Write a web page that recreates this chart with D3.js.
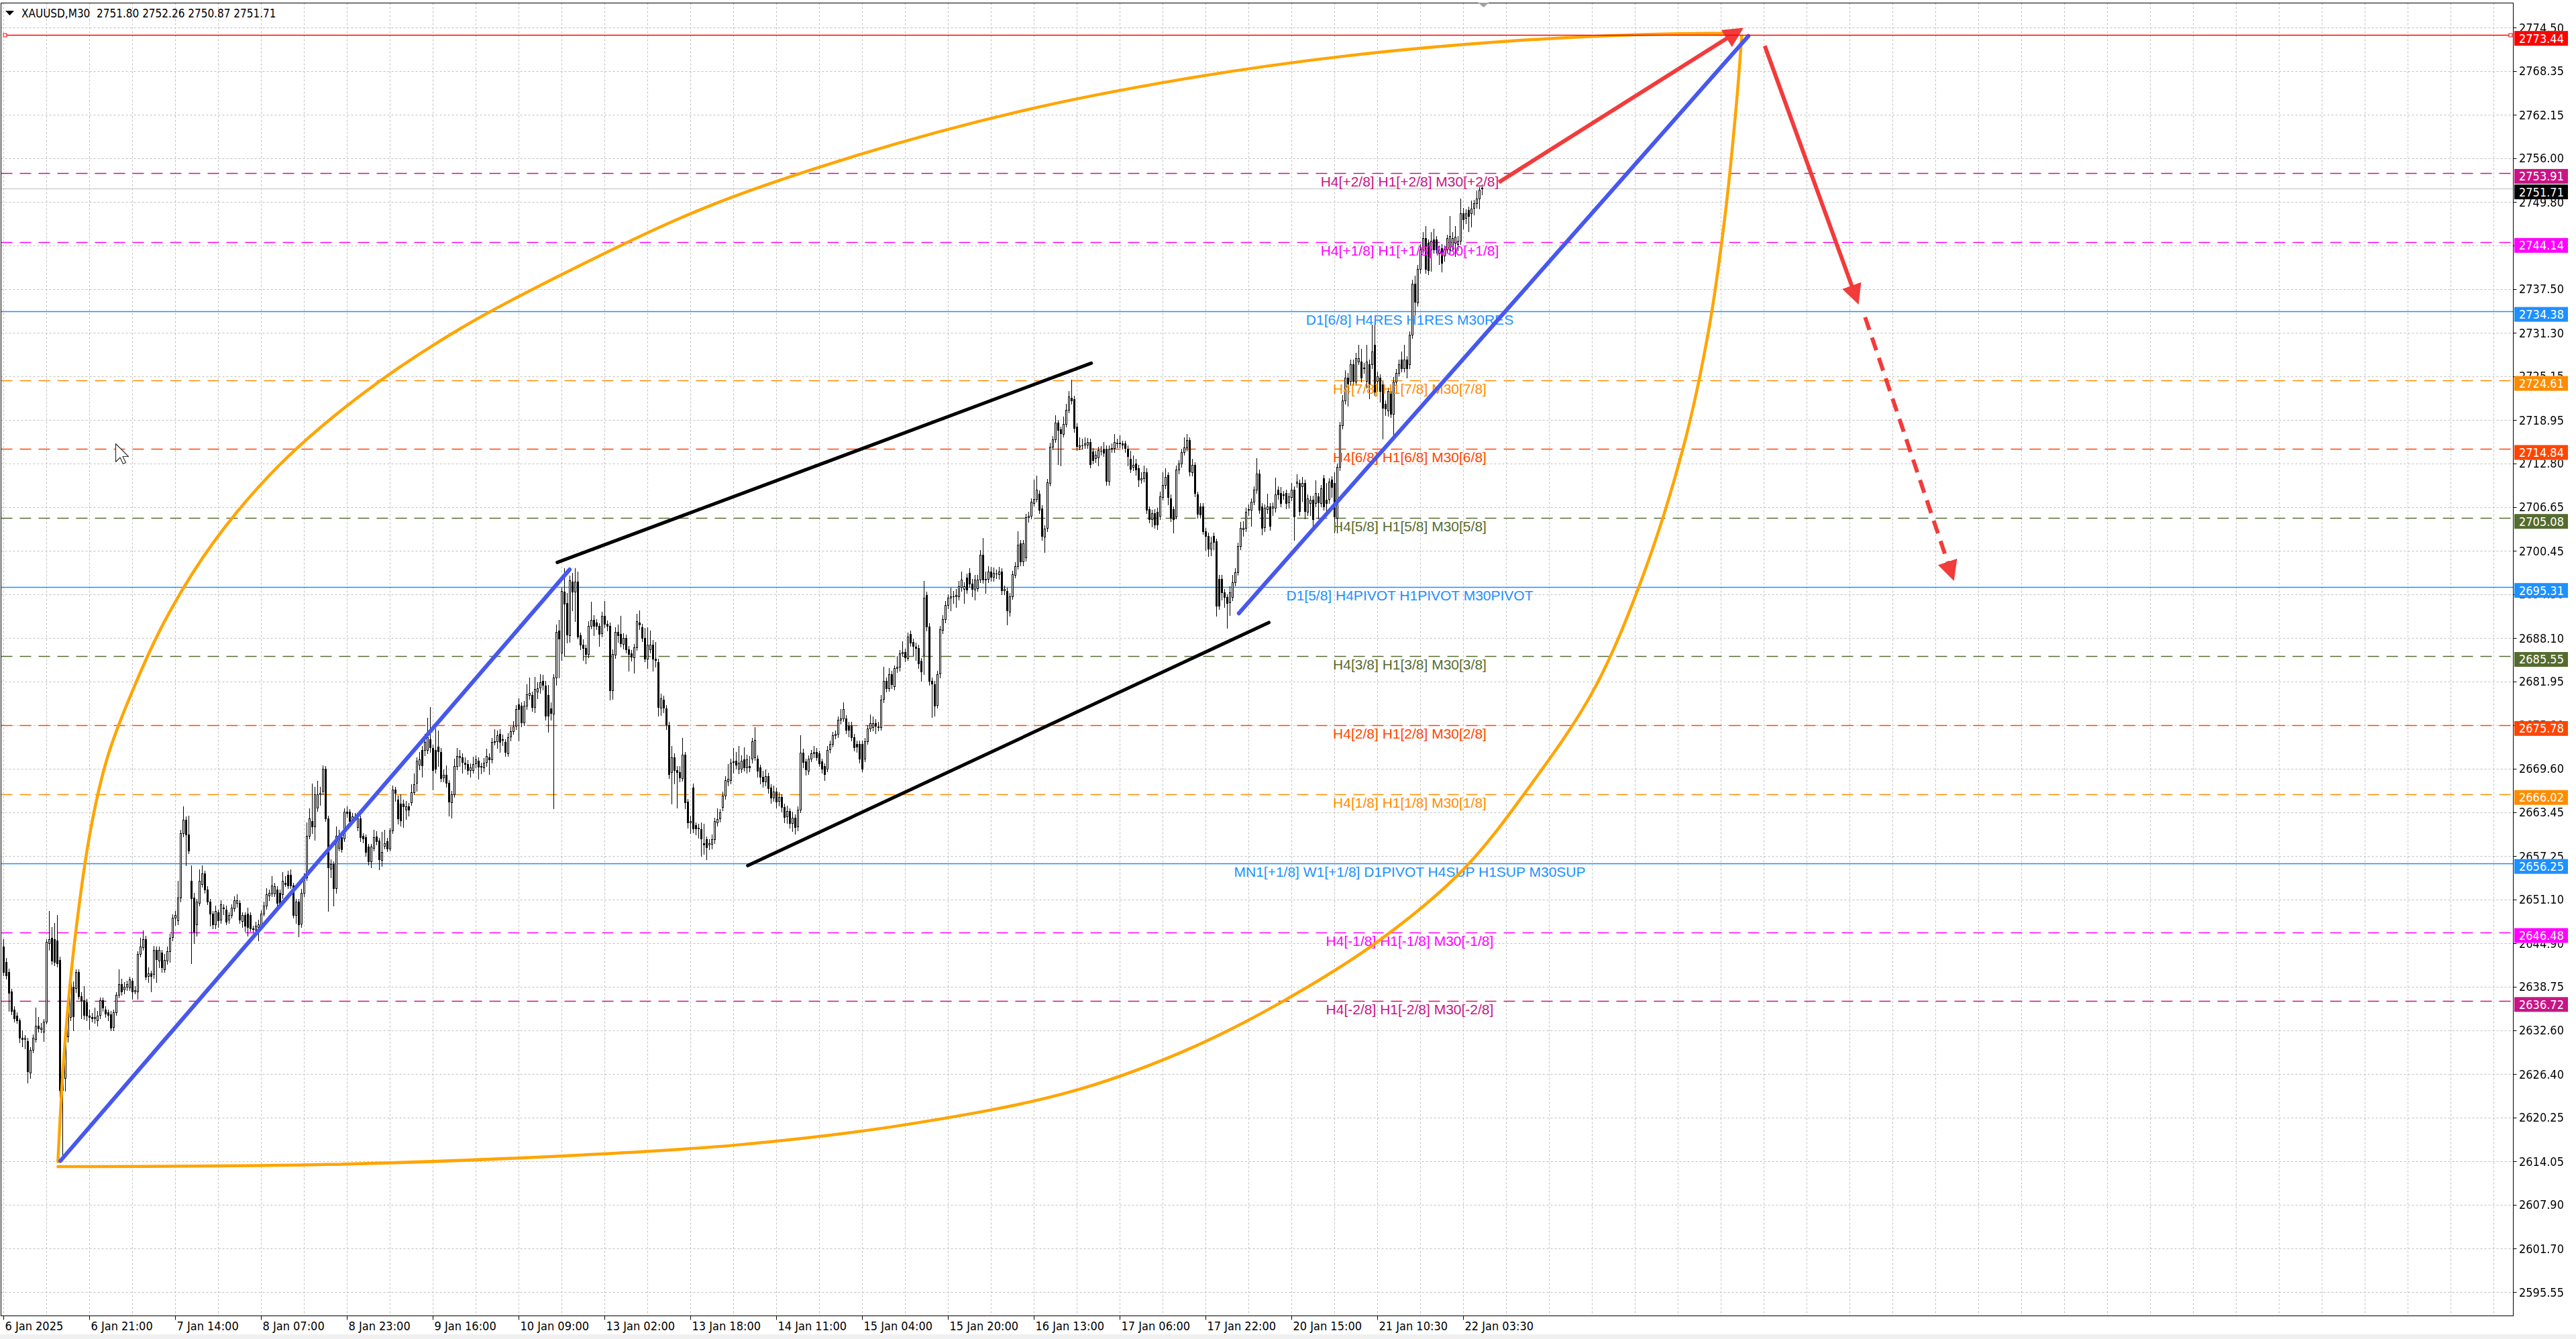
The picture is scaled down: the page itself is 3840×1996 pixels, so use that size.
<!DOCTYPE html>
<html><head><meta charset="utf-8">
<script src="https://cdn.jsdelivr.net/npm/d3@7"></script>
<style>
html,body{margin:0;padding:0;background:#fff;}
svg{display:block;}
.ax{font-family:"DejaVu Sans Condensed","DejaVu Sans",sans-serif;font-stretch:condensed;}
.lv{font-family:"Liberation Sans",Arial,sans-serif;}
</style></head><body>
<svg id="chart" width="3840" height="1996"></svg>
<script>
// ---------------- data ----------------
const titleText = "XAUUSD,M30  2751.80 2752.26 2750.87 2751.71";
const timeLabels = ["6 Jan 2025","6 Jan 21:00","7 Jan 14:00","8 Jan 07:00","8 Jan 23:00","9 Jan 16:00","10 Jan 09:00","13 Jan 02:00","13 Jan 18:00","14 Jan 11:00","15 Jan 04:00","15 Jan 20:00","16 Jan 13:00","17 Jan 06:00","17 Jan 22:00","20 Jan 15:00","21 Jan 10:30","22 Jan 03:30"];
const timeLabelBars = [0,32,64,96,128,160,192,224,256,288,320,352,384,416,448,480,512,544];
const priceTicks = [2774.50,2768.35,2762.15,2756.00,2749.80,2743.65,2737.50,2731.30,2725.15,2718.95,2712.80,2706.65,2700.45,2694.30,2688.10,2681.95,2675.80,2669.60,2663.45,2657.25,2651.10,2644.90,2638.75,2632.60,2626.40,2620.25,2614.05,2607.90,2601.70,2595.55];

const opens = [
2644.4,2642.3,2640.8,2638.1,2635.5,2634.7,2634.0,2631.5,2631.3,2631.1,
2626.6,2629.8,2631.3,2633.2,2632.8,2632.4,2633.8,2644.9,2645.7,2645.5,
2645.3,2642.5,2624.1,2625.8,2631.7,2634.5,2638.7,2638.5,2640.8,2637.4,
2636.8,2636.6,2634.7,2634.5,2634.3,2634.0,2634.7,2636.8,2635.5,2635.1,
2634.9,2633.0,2635.1,2637.6,2639.1,2638.3,2638.7,2638.7,2639.6,2638.1,
2638.1,2643.4,2644.4,2645.5,2640.2,2640.6,2640.6,2644.0,2642.5,2643.6,
2641.2,2642.5,2643.8,2645.7,2648.5,2648.2,2651.4,2660.5,2662.4,2660.3,
2653.7,2651.4,2647.6,2650.6,2653.3,2654.8,2652.5,2650.8,2649.1,2647.6,
2649.3,2648.2,2649.9,2649.7,2648.2,2648.9,2649.9,2650.6,2650.6,2648.0,
2648.9,2649.1,2648.9,2647.0,2646.8,2647.2,2647.4,2649.1,2650.2,2651.6,
2652.0,2652.0,2652.5,2652.0,2651.8,2653.5,2654.6,2654.6,2653.1,2648.9,
2650.8,2647.6,2652.0,2654.2,2660.1,2662.2,2661.4,2664.1,2666.0,2666.5,
2669.6,2662.6,2655.4,2656.1,2652.7,2658.4,2659.9,2659.7,2663.5,2663.5,
2662.2,2662.9,2661.4,2662.6,2660.1,2659.9,2658.6,2656.5,2658.4,
2660.0,2659.4,2656.7,2658.7,2659.3,2658.3,2660.9,2666.7,2665.2,2664.7,
2664.7,2663.8,2664.3,2664.9,2666.3,2667.6,2670.1,2672.3,2672.3,2672.3,
2673.8,2672.5,2672.3,2672.7,2672.0,2668.3,2668.7,2667.6,2664.9,2666.0,
2670.0,2671.2,2671.2,2670.5,2670.3,2669.4,2669.4,2670.3,2670.7,2669.9,
2669.8,2670.5,2671.2,2670.9,2673.4,2673.4,2674.5,2673.8,2673.4,2671.8,
2674.1,2674.9,2675.6,2678.7,2678.5,2676.1,2678.5,2680.0,2680.0,2678.3,
2680.5,2681.0,2682.0,2681.4,2680.0,2678.1,2677.4,2682.5,2689.2,2686.1,
2694.7,2693.0,2688.5,2696.1,2694.7,2696.1,2688.5,2687.2,2686.7,2685.8,
2689.8,2690.7,2690.3,2689.8,2688.7,2691.2,2690.1,2689.8,2680.7,2685.8,
2689.0,2688.7,2687.2,2688.1,2686.5,2685.9,2685.4,2686.8,2690.3,2689.6,
2688.1,2685.2,2686.5,2687.2,2685.2,2684.7,2678.3,2679.4,2678.1,2675.8,
2669.1,2671.2,2669.4,2669.1,2668.3,2671.6,2664.9,2662.0,2666.9,2661.6,
2661.1,2661.1,2659.1,2659.6,2658.9,2658.9,2659.6,2662.0,2662.5,2664.2,
2665.8,2667.8,2668.0,2670.5,2670.7,2669.6,2669.6,2670.9,2669.8,2670.0,
2671.0,2671.2,2671.0,2669.8,2668.5,2667.8,2668.6,2666.9,2665.5,2666.4,
2665.0,2665.6,2664.2,2662.8,2663.6,2661.9,2662.7,2661.4,2663.8,2671.9,
2670.6,2669.3,2671.0,2671.8,2672.0,2671.8,2670.6,2670.0,2669.6,2672.3,
2673.1,2674.3,2674.5,2676.5,2676.7,2676.7,2675.7,2675.7,2674.1,2673.1,
2673.1,2673.1,2671.0,2673.5,2675.3,2675.5,2676.1,2675.5,2675.5,2679.4,
2682.0,2681.0,2683.0,2681.2,2683.8,2684.0,2685.9,2686.1,2685.3,2688.7,
2687.5,2686.9,2686.7,2684.9,2685.7,2694.2,2689.7,2682.0,2681.6,2678.6,
2683.0,2689.3,2690.8,2692.8,2693.8,2694.0,2694.0,2694.0,2695.4,2695.0,
2696.7,2697.3,2695.8,2695.0,2695.2,2696.4,2699.9,2696.4,2696.5,2697.5,
2696.7,2697.2,2697.1,2697.5,2694.8,2694.8,2691.8,2694.0,2697.1,2698.3,
2701.5,2698.9,2699.5,2705.2,2705.4,2707.2,2707.8,2708.5,2706.4,2702.5,
2703.6,2710.1,2715.2,2716.2,2718.6,2717.6,2717.0,2718.4,2720.4,2722.1,
2721.9,2718.0,2715.2,2715.4,2715.4,2715.4,2715.8,2714.5,2713.5,2713.7,
2714.6,2714.9,2714.9,2710.3,2714.9,2714.9,2715.6,2715.7,2715.6,2715.6,2714.9,
2713.5,2712.3,2712.8,2712.1,2710.5,2710.7,2711.6,2706.3,2704.9,2705.8,
2706.0,2705.3,2708.1,2709.8,2711.2,2707.9,2706.3,2705.3,2711.9,2712.8,
2714.4,2715.1,2716.1,2711.6,2712.6,2708.4,2706.7,2706.7,2703.2,2702.5,
2700.7,2702.5,2701.8,2696.5,2696.5,2694.6,2693.9,2693.2,2693.9,2696.0,
2697.4,2701.1,2703.5,2703.7,2706.2,2706.3,2707.4,2709.1,2711.4,2706.7,
2703.7,2706.3,2706.7,2706.5,2706.5,2709.1,2708.6,2708.4,2708.6,2707.2,
2708.1,2709.1,2710.0,2710.0,2709.5,2710.0,2706.0,2707.2,2707.7,2707.2,
2708.1,2707.2,2710.7,2707.7,2707.7,2710.5,2710.0,2705.1,2712.3,2718.2,
2721.7,2724.9,2724.4,2726.8,2724.4,2727.2,2727.2,2726.3,2724.4,2726.8,
2726.8,2729.6,2724.4,2724.9,2724.0,2721.2,2720.2,2723.0,2719.8,2724.4,
2725.6,2727.5,2726.3,2727.5,2726.8,2731.0,2738.2,2735.6,2740.3,2743.1,
2744.7,2744.0,2743.1,2744.5,2744.5,2742.6,2743.3,2742.2,2743.1,2743.1,
2743.6,2744.0,2743.8,2744.3,2748.2,2747.5,2748.7,2748.2,2748.9,2749.6,
2750.3,2751.80];

const highs = [
2645.5,2642.8,2641.3,2638.5,2636.0,2635.1,2634.3,2632.6,2631.9,2631.5,
2630.2,2632.0,2635.8,2634.5,2633.6,2634.2,2645.5,2649.5,2647.2,2647.8,
2648.9,2643.0,2628.0,2632.5,2636.5,2640.0,2639.5,2641.2,2641.2,2638.0,
2638.8,2637.0,2635.5,2635.0,2635.8,2635.3,2637.2,2637.2,2636.0,2635.5,
2635.3,2635.5,2638.0,2641.2,2639.9,2639.4,2639.6,2640.2,2640.0,2638.8,
2643.8,2645.7,2646.7,2646.0,2641.5,2641.0,2644.5,2644.4,2644.4,2644.0,
2643.4,2644.4,2646.2,2649.0,2649.5,2653.7,2661.0,2664.3,2662.9,2663.0,
2655.9,2652.0,2651.2,2655.4,2655.9,2655.2,2653.0,2651.2,2649.5,2650.2,
2649.7,2651.0,2650.4,2650.2,2649.3,2650.4,2651.6,2651.8,2651.0,2649.3,
2649.3,2649.9,2649.3,2647.4,2648.0,2648.2,2649.6,2650.8,2652.7,2652.5,
2654.4,2653.5,2653.0,2652.5,2655.0,2654.4,2655.2,2655.4,2653.5,2651.2,
2651.2,2652.6,2654.8,2662.0,2664.0,2667.5,2667.0,2667.9,2667.0,2670.1,
2670.0,2663.0,2656.8,2656.5,2661.4,2661.0,2660.5,2664.0,2664.3,2663.9,
2663.3,2663.3,2663.1,2663.0,2660.5,2660.3,2659.0,2659.0,2661.0,
2660.8,2659.8,2660.7,2661.0,2659.8,2661.2,2667.2,2667.0,2665.8,2666.0,
2665.2,2665.0,2664.8,2667.4,2668.9,2671.2,2672.0,2672.8,2674.5,2676.8,
2678.3,2673.0,2675.3,2675.0,2672.5,2669.5,2670.1,2668.0,2666.5,2671.0,
2672.5,2672.3,2671.8,2671.2,2670.8,2670.4,2671.3,2671.5,2671.2,2670.5,
2671.1,2672.4,2671.8,2674.0,2675.2,2675.0,2675.2,2674.4,2673.8,2674.6,
2675.6,2676.3,2678.6,2679.6,2679.0,2679.2,2681.6,2682.5,2680.5,2682.6,
2681.8,2683.0,2682.9,2682.0,2681.5,2679.0,2683.0,2690.0,2690.7,2695.2,
2698.0,2694.5,2696.9,2697.3,2698.0,2697.5,2688.9,2687.9,2687.2,2690.5,
2693.2,2691.3,2690.8,2690.2,2691.8,2693.3,2690.6,2690.3,2686.5,2689.6,
2690.0,2691.2,2688.8,2688.6,2687.0,2686.4,2687.3,2691.5,2692.0,2690.1,
2689.5,2689.6,2689.2,2687.8,2687.5,2685.2,2680.2,2679.9,2678.6,2676.2,
2672.8,2671.8,2670.0,2670.0,2674.0,2672.0,2665.3,2663.0,2667.5,2662.0,
2661.8,2662.0,2661.8,2660.0,2659.6,2660.3,2662.7,2664.0,2663.9,2666.4,
2668.6,2670.3,2671.0,2672.5,2672.0,2672.8,2671.5,2672.6,2671.6,2671.4,
2674.0,2675.5,2671.5,2670.2,2669.3,2669.5,2669.0,2667.4,2667.2,2666.9,
2666.3,2666.0,2664.7,2664.4,2664.0,2663.5,2663.1,2664.3,2674.3,2672.4,
2671.0,2671.5,2672.3,2672.8,2672.5,2672.2,2671.0,2670.4,2672.8,2673.6,
2674.8,2675.0,2677.0,2678.0,2679.0,2677.2,2676.2,2676.2,2674.5,2673.6,
2673.6,2673.6,2674.0,2675.8,2677.3,2677.0,2676.6,2676.2,2680.0,2684.0,
2682.5,2683.8,2683.5,2684.2,2685.5,2686.4,2687.6,2686.6,2688.9,2689.2,
2688.0,2687.4,2687.2,2685.3,2696.2,2694.7,2690.2,2682.5,2682.0,2683.5,
2689.8,2691.3,2693.3,2694.3,2695.2,2694.8,2695.0,2696.2,2697.5,2696.0,
2697.2,2698.0,2696.5,2697.0,2697.0,2700.5,2702.3,2697.5,2698.3,2698.2,
2698.1,2697.8,2698.2,2698.0,2695.5,2695.2,2694.5,2697.6,2698.8,2703.2,
2702.0,2702.0,2705.7,2706.0,2707.9,2710.5,2711.1,2709.0,2706.9,2704.1,
2710.6,2715.7,2716.7,2719.6,2719.0,2718.0,2719.4,2721.2,2723.0,2724.7,
2722.4,2718.5,2716.5,2716.3,2716.5,2716.4,2716.3,2715.0,2714.6,2715.2,
2715.3,2715.8,2715.4,2715.4,2715.6,2717.0,2716.3,2716.8,2716.0,2716.0,2715.4,
2714.6,2713.9,2713.5,2712.6,2711.6,2712.5,2712.1,2706.7,2706.2,2706.3,
2706.5,2708.8,2711.6,2712.1,2711.6,2708.4,2706.7,2712.5,2713.3,2714.9,
2716.5,2717.0,2716.5,2713.5,2713.0,2708.8,2707.2,2707.2,2703.7,2703.0,
2702.4,2703.0,2702.2,2697.0,2697.0,2695.0,2694.3,2695.4,2697.0,2698.0,
2701.6,2704.5,2704.6,2706.5,2707.0,2707.9,2709.6,2713.6,2711.9,2707.2,
2707.0,2708.5,2707.2,2707.3,2710.8,2709.6,2709.5,2708.9,2709.1,2708.6,
2710.0,2709.6,2711.3,2710.5,2710.9,2710.5,2708.4,2708.2,2708.2,2710.4,
2708.6,2709.8,2711.2,2710.0,2710.7,2711.0,2711.6,2712.8,2718.7,2722.5,
2726.0,2725.6,2727.5,2727.5,2728.5,2729.6,2729.0,2727.0,2729.6,2727.5,
2732.4,2733.0,2725.8,2725.4,2724.5,2721.7,2723.5,2723.5,2725.0,2726.2,
2727.5,2728.6,2729.6,2728.0,2731.5,2738.8,2739.4,2740.9,2743.8,2745.5,
2746.4,2744.5,2745.5,2746.0,2745.0,2743.6,2743.8,2743.6,2745.2,2747.8,
2745.5,2746.4,2745.0,2750.3,2749.0,2748.8,2749.2,2750.0,2750.1,2751.4,
2751.9,2752.26];

const lows = [
2640.4,2639.9,2635.3,2634.9,2633.8,2633.6,2630.9,2630.3,2630.0,2625.2,
2625.8,2629.4,2631.0,2632.4,2632.3,2631.1,2633.5,2644.0,2642.0,2641.8,
2641.6,2622.5,2614.3,2624.0,2631.0,2634.0,2632.6,2638.0,2637.0,2634.3,
2634.2,2634.0,2632.8,2633.8,2633.6,2633.2,2634.3,2635.3,2634.5,2634.0,
2632.6,2632.6,2634.8,2637.2,2637.6,2637.8,2638.3,2638.3,2637.0,2637.8,
2637.0,2643.0,2644.0,2639.8,2639.4,2638.1,2640.0,2639.4,2641.5,2640.8,
2640.8,2642.0,2642.3,2645.3,2647.5,2647.6,2650.8,2660.0,2655.9,2657.6,
2642.1,2644.9,2646.0,2650.2,2652.9,2652.0,2650.4,2647.4,2647.0,2647.0,
2647.2,2647.8,2649.0,2647.6,2647.8,2648.5,2649.5,2650.0,2647.8,2647.2,
2646.6,2646.0,2646.6,2646.5,2646.3,2645.3,2647.0,2648.8,2649.8,2651.0,
2651.6,2651.6,2650.0,2650.2,2651.3,2653.0,2652.7,2652.7,2648.5,2647.8,
2645.9,2647.2,2651.6,2653.8,2659.7,2660.5,2659.5,2663.6,2664.5,2666.0,
2662.2,2649.5,2654.2,2650.2,2652.0,2658.0,2657.8,2659.3,2662.8,2661.8,
2661.8,2662.4,2660.9,2659.3,2659.2,2657.3,2656.0,2655.6,2658.0,
2658.9,2655.4,2655.8,2658.3,2657.9,2658.0,2660.5,2665.0,2661.8,2661.5,
2661.3,2662.5,2663.0,2664.5,2666.0,2666.5,2669.5,2668.5,2671.5,2671.8,
2672.0,2666.7,2669.0,2670.0,2667.8,2667.8,2667.0,2663.0,2662.7,2665.6,
2669.5,2670.0,2669.0,2669.6,2668.8,2668.5,2669.0,2669.8,2668.2,2668.9,
2669.2,2670.0,2668.8,2670.5,2673.0,2672.5,2672.0,2672.9,2671.4,2671.4,
2673.6,2674.5,2675.2,2673.6,2675.6,2675.8,2678.0,2679.5,2677.8,2677.6,
2679.6,2680.3,2680.8,2676.5,2674.8,2676.5,2664.0,2681.5,2682.5,2685.0,
2685.5,2687.4,2687.5,2692.0,2690.5,2688.0,2686.5,2685.0,2684.5,2685.4,
2689.4,2688.5,2689.3,2687.0,2688.3,2689.6,2689.2,2679.4,2679.5,2685.3,
2687.5,2686.9,2686.6,2686.0,2683.5,2684.9,2683.2,2686.4,2689.3,2687.6,
2684.8,2683.8,2686.0,2683.5,2684.0,2677.1,2677.2,2677.6,2675.2,2668.3,
2664.7,2667.5,2664.1,2667.8,2667.9,2664.0,2661.2,2660.5,2660.6,2660.3,
2659.8,2657.3,2657.5,2656.8,2658.2,2658.3,2659.1,2661.5,2662.1,2663.7,
2665.3,2667.2,2667.5,2669.0,2669.6,2668.9,2669.1,2669.3,2669.0,2669.2,
2670.5,2670.8,2668.5,2667.5,2667.0,2667.2,2666.2,2664.8,2665.0,2664.1,
2664.4,2663.5,2662.0,2661.9,2661.2,2660.8,2660.4,2660.9,2663.4,2669.8,
2668.7,2668.8,2670.6,2671.2,2670.8,2670.0,2669.0,2668.0,2669.2,2671.9,
2672.7,2673.9,2674.1,2676.0,2676.3,2674.6,2674.2,2673.6,2672.2,2672.0,
2670.5,2669.2,2670.6,2673.1,2674.9,2675.0,2674.6,2675.0,2675.1,2679.0,
2680.5,2680.6,2681.0,2680.8,2683.3,2683.5,2685.5,2684.8,2685.0,2687.0,
2685.6,2685.0,2683.8,2682.0,2683.0,2689.2,2681.5,2676.9,2677.1,2678.2,
2682.5,2688.8,2690.3,2692.3,2692.0,2693.0,2692.5,2693.5,2694.8,2693.0,
2694.5,2695.3,2694.0,2693.5,2694.8,2696.0,2695.9,2694.5,2696.0,2696.2,
2696.2,2696.6,2696.5,2694.3,2694.3,2690.0,2691.2,2693.6,2696.7,2697.9,
2698.4,2698.4,2699.0,2704.5,2705.0,2706.8,2707.4,2705.8,2702.0,2700.3,
2703.2,2709.7,2714.8,2715.8,2712.7,2712.5,2716.6,2718.0,2720.0,2721.2,
2717.3,2714.7,2714.8,2714.9,2715.0,2715.0,2712.2,2712.8,2713.0,2712.5,
2714.0,2713.8,2709.8,2709.8,2714.4,2714.4,2715.1,2715.1,2714.9,2714.4,2712.5,
2711.6,2711.8,2711.2,2709.6,2710.0,2710.2,2705.8,2704.4,2703.9,2703.7,
2703.5,2704.9,2707.7,2709.3,2707.0,2704.6,2703.0,2705.0,2711.4,2712.3,
2714.0,2714.6,2711.1,2711.1,2708.1,2705.1,2705.1,2702.8,2700.5,2699.7,
2699.8,2700.6,2691.2,2692.2,2693.5,2692.5,2689.5,2691.3,2693.4,2695.5,
2697.0,2700.6,2702.5,2703.2,2705.5,2704.0,2707.0,2708.6,2705.8,2702.7,
2703.2,2705.8,2703.4,2705.5,2706.0,2707.8,2706.7,2707.8,2706.4,2706.5,
2707.6,2702.0,2709.5,2705.5,2707.5,2705.0,2705.5,2705.5,2703.5,2706.7,
2705.0,2706.7,2706.2,2706.0,2707.2,2708.0,2703.0,2703.0,2711.8,2717.7,
2721.2,2721.0,2723.9,2723.9,2723.9,2726.8,2724.4,2725.6,2723.5,2722.0,
2726.3,2722.5,2723.0,2721.5,2716.3,2719.6,2719.5,2719.3,2716.3,2724.0,
2725.2,2725.8,2725.8,2724.9,2726.3,2730.5,2733.9,2735.1,2739.8,2742.6,
2739.8,2739.6,2740.0,2742.6,2742.6,2741.0,2739.9,2741.5,2742.6,2742.6,
2743.0,2742.1,2743.0,2743.8,2746.0,2746.8,2745.6,2746.3,2748.0,2749.0,
2748.9,2750.87];

const closes = [
2640.8,2640.4,2637.9,2635.3,2634.3,2634.0,2631.5,2631.3,2631.5,2626.8,
2629.8,2631.5,2633.2,2632.8,2633.0,2633.8,2645.1,2645.5,2642.5,2642.3,
2642.1,2624.1,2625.8,2631.7,2636.0,2639.4,2634.5,2640.8,2637.4,2636.8,
2634.7,2634.7,2634.5,2634.3,2634.5,2634.7,2636.8,2635.8,2634.9,2634.7,
2633.0,2635.1,2637.6,2639.1,2638.1,2638.7,2639.1,2639.8,2638.1,2638.3,
2643.4,2644.4,2645.5,2640.2,2640.6,2640.2,2644.0,2642.7,2644.0,2641.5,
2642.5,2643.8,2645.7,2648.5,2648.9,2651.4,2660.5,2662.4,2660.3,2658.0,
2651.2,2646.6,2650.8,2653.7,2654.8,2652.5,2650.8,2649.1,2647.6,2649.5,
2648.2,2650.4,2649.8,2648.0,2648.9,2649.9,2651.0,2651.0,2648.2,2648.9,
2647.4,2647.2,2647.0,2646.9,2647.4,2647.6,2649.1,2650.2,2651.8,2652.0,
2653.1,2653.0,2650.6,2650.6,2653.7,2653.3,2653.1,2653.1,2648.9,2650.8,
2647.6,2652.0,2654.2,2660.1,2662.6,2661.4,2666.0,2666.0,2666.2,2669.6,
2662.6,2655.7,2656.1,2652.7,2660.1,2659.7,2658.2,2663.5,2663.3,2662.2,
2662.9,2662.8,2662.6,2659.9,2659.7,2657.8,2656.5,2658.6,2659.9,
2659.3,2656.7,2657.8,2659.1,2658.3,2660.9,2666.7,2666.2,2662.5,2662.3,
2664.3,2664.3,2663.8,2666.3,2667.4,2670.7,2670.9,2670.1,2673.4,2674.1,
2672.7,2669.4,2669.6,2672.0,2668.3,2668.7,2667.6,2664.9,2666.0,2670.0,
2671.4,2671.4,2670.5,2670.3,2669.4,2669.8,2670.3,2670.9,2669.8,2670.0,
2670.5,2671.4,2670.9,2673.4,2673.5,2674.3,2673.4,2673.7,2672.0,2674.1,
2674.9,2675.6,2678.0,2678.0,2676.1,2678.5,2680.1,2680.3,2678.3,2680.9,
2681.0,2681.8,2681.4,2677.1,2677.1,2677.4,2682.5,2689.0,2688.1,2694.8,
2693.0,2688.5,2696.3,2694.7,2696.1,2688.3,2687.2,2686.7,2685.8,2689.8,
2690.7,2689.8,2689.8,2688.7,2691.2,2690.1,2689.8,2680.7,2685.8,2689.0,
2688.5,2687.4,2688.1,2686.5,2685.8,2685.4,2686.8,2690.5,2690.0,2688.1,
2685.2,2687.2,2687.2,2685.2,2685.0,2678.3,2679.6,2678.3,2675.8,2668.9,
2671.2,2669.4,2669.1,2668.3,2671.6,2664.9,2662.0,2662.2,2661.1,2661.1,
2661.2,2659.8,2658.9,2658.5,2659.1,2659.6,2662.2,2662.5,2663.4,2665.8,
2668.0,2668.2,2670.5,2670.6,2670.1,2670.5,2670.7,2669.8,2670.9,2669.8,
2673.5,2673.7,2669.3,2668.5,2667.8,2668.6,2666.9,2665.5,2666.4,2665.0,
2665.6,2664.2,2662.8,2663.6,2661.9,2662.7,2661.4,2663.8,2671.9,2670.6,
2669.5,2671.0,2671.8,2672.0,2671.2,2670.4,2669.6,2668.9,2672.3,2673.1,
2674.3,2674.5,2676.5,2676.7,2678.0,2675.1,2675.1,2674.1,2672.7,2672.7,
2671.0,2669.6,2673.5,2675.3,2676.1,2676.1,2675.7,2675.6,2679.4,2682.0,
2681.0,2683.0,2681.6,2683.8,2684.0,2685.9,2686.1,2685.3,2688.3,2687.5,
2686.9,2686.7,2684.5,2683.4,2693.8,2689.7,2682.0,2681.6,2678.6,2683.0,
2689.3,2690.8,2692.8,2693.8,2694.0,2694.0,2694.2,2695.4,2696.4,2695.4,
2695.0,2695.8,2695.0,2696.4,2696.4,2699.9,2696.4,2696.5,2697.5,2696.7,
2697.3,2697.2,2697.5,2694.8,2695.0,2692.0,2694.0,2697.1,2698.3,2701.3,
2698.9,2701.5,2705.2,2705.4,2707.4,2707.8,2709.1,2706.2,2702.5,2703.6,
2710.1,2715.2,2716.2,2718.6,2717.6,2717.0,2718.4,2720.4,2722.3,2721.7,
2717.8,2715.2,2715.4,2715.4,2715.6,2715.8,2712.7,2713.3,2714.0,2714.7,
2714.6,2714.3,2710.3,2714.9,2715.0,2715.8,2715.7,2715.6,2715.4,2714.9,2713.9,
2712.1,2712.6,2711.9,2710.5,2710.7,2711.6,2706.3,2704.9,2705.8,2704.2,
2704.2,2708.1,2709.8,2710.9,2708.1,2705.1,2704.9,2711.9,2712.8,2714.4,
2715.1,2716.1,2711.6,2712.6,2708.6,2705.6,2705.6,2703.2,2702.5,2700.7,
2701.6,2701.6,2692.7,2692.7,2694.6,2693.9,2693.0,2694.6,2696.0,2697.4,
2701.1,2703.7,2703.7,2706.0,2706.3,2707.4,2709.1,2711.4,2706.3,2703.7,
2706.5,2706.7,2703.9,2706.7,2708.4,2708.4,2707.2,2708.3,2707.2,2708.1,
2709.1,2705.3,2710.2,2706.0,2710.0,2706.0,2707.9,2707.7,2704.9,2708.6,
2707.2,2709.3,2706.7,2707.2,2710.2,2709.5,2705.3,2712.3,2718.2,2721.7,
2724.9,2724.0,2726.8,2724.4,2727.7,2727.7,2724.9,2726.4,2727.2,2724.0,
2728.6,2723.0,2725.1,2723.0,2720.7,2720.5,2723.0,2719.8,2724.4,2725.6,
2726.8,2726.3,2727.5,2726.3,2731.0,2738.2,2735.6,2740.3,2743.1,2744.7,
2740.3,2740.1,2744.3,2743.1,2743.1,2743.1,2741.2,2743.1,2744.7,2745.0,
2744.7,2744.9,2744.3,2748.2,2747.3,2748.2,2747.8,2748.9,2749.6,2750.3,
2751.5,2751.71];

// Murrey-math style levels
const levelPrices = [2753.91,2744.14,2734.38,2724.61,2714.84,2705.08,2695.31,2685.55,2675.78,2666.02,2656.25,2646.48,2636.72];
const levelKinds  = ["p2","p1","res","l7","l6","l5","pivot","l3","l2","l1","sup","m1","m2"];
const levelLabels = ["H4[+2/8] H1[+2/8] M30[+2/8]","H4[+1/8] H1[+1/8] M30[+1/8]","D1[6/8] H4RES H1RES M30RES","H4[7/8] H1[7/8] M30[7/8]","H4[6/8] H1[6/8] M30[6/8]","H4[5/8] H1[5/8] M30[5/8]","D1[5/8] H4PIVOT H1PIVOT M30PIVOT","H4[3/8] H1[3/8] M30[3/8]","H4[2/8] H1[2/8] M30[2/8]","H4[1/8] H1[1/8] M30[1/8]","MN1[+1/8] W1[+1/8] D1PIVOT H4SUP H1SUP M30SUP","H4[-1/8] H1[-1/8] M30[-1/8]","H4[-2/8] H1[-2/8] M30[-2/8]"];
const bidPrice = 2751.71;
const targetPrice = 2773.44;

// drawn objects, as [bar index, price]
const blueTrend1 = [[21.1,2614.1],[210.9,2697.8]];
const blueTrend2 = [[460.3,2691.6],[650.2,2773.3]];
const channelUpper = [[206.3,2698.8],[405.3,2727.0]];
const channelLower = [[277.3,2655.9],[471.5,2690.3]];
const arrowUp = [[557.2,2752.6],[646.5,2774.0]];
const arrowDown = [[656.3,2771.9],[690.5,2736.1]];
const arrowDownDashed = [[693.7,2733.5],[726.1,2697.0]];
const arcUpper = [[20.2,2614.0],[22.6,2629.6],[26.3,2644.7],[32.4,2661.0],[38.5,2671.0],[45.9,2678.7],[60.0,2690.5],[78.3,2701.7],[102.8,2712.6],[133.5,2722.6],[170.2,2731.9],[213.0,2740.5],[262.0,2749.1],[317.1,2756.3],[378.3,2762.6],[439.6,2767.2],[500.8,2770.5],[562.0,2772.6],[611.0,2773.5],[646.5,2773.7]];
const arcLower = [[20.2,2613.3],[121.2,2613.6],[213.0,2614.9],[274.3,2616.4],[335.5,2619.2],[396.7,2623.8],[439.6,2629.6],[476.3,2636.6],[513.0,2645.4],[543.6,2655.2],[568.1,2666.8],[592.6,2680.8],[611.0,2697.0],[626.3,2715.6],[635.5,2731.9],[641.6,2748.2],[645.9,2764.4],[647.7,2773.3]];
const cursorAt = [41.5,2715.6];

// ---------------- styles ----------------
const levelStyle = {
  p2:{c:"#C71585",d:true}, p1:{c:"#FF00FF",d:true}, res:{c:"#1E90FF",d:false},
  l7:{c:"#FF8C00",d:true}, l6:{c:"#FF4500",d:true}, l5:{c:"#556B2F",d:true},
  pivot:{c:"#1E90FF",d:false}, l3:{c:"#556B2F",d:true}, l2:{c:"#FF4500",d:true},
  l1:{c:"#FF8C00",d:true}, sup:{c:"#1E90FF",d:false}, m1:{c:"#FF00FF",d:true}, m2:{c:"#C71585",d:true}
};
const BLUE="#4758EE", RED="#F23B3B", ORANGE="#FFA500";

// ---------------- layout ----------------
const W=3840, H=1996;
const P={left:1.5, top:4.5, right:3746.5, bottom:1961.5};
const x = d3.scaleLinear().domain([0,935]).range([5.5,3745.5]);
const y = d3.scaleLinear().domain([2595.55,2774.50]).range([1926,41]);
const cy = v => Math.round(y(v))+0.5;

const svg = d3.select("#chart");
svg.append("rect").attr("width",W).attr("height",H).attr("fill","#fff");
svg.append("rect").attr("x",0).attr("y",1989).attr("width",W).attr("height",7).attr("fill","#f0f0f0");

const levels = levelPrices.map((p,i)=>({p, kind:levelKinds[i], label:levelLabels[i]}));
const tags = levels.map(d=>({p:d.p, c:levelStyle[d.kind].c}))
  .concat([{p:bidPrice,c:"#000"},{p:targetPrice,c:"#FF0000"}]);
const tagY = d => y(d.p)-6;

const defs = svg.append("defs");
defs.append("clipPath").attr("id","plotClip").append("rect")
  .attr("x",P.left).attr("y",P.top).attr("width",P.right-P.left).attr("height",P.bottom-P.top);
defs.append("marker").attr("id","arrowRed").attr("viewBox","0 0 10 10").attr("refX",7).attr("refY",5)
  .attr("markerWidth",5).attr("markerHeight",5).attr("orient","auto")
  .append("path").attr("d","M0,0 L10,5 L0,10 z").attr("fill",RED);
// mask that hides the parts of the tick labels lying under the price tags
const mask = defs.append("mask").attr("id","tagMask").attr("maskUnits","userSpaceOnUse")
  .attr("x",0).attr("y",0).attr("width",W).attr("height",H);
mask.append("rect").attr("width",W).attr("height",H).attr("fill","#fff");
mask.selectAll("rect.t").data(tags).join("rect").attr("class","t")
  .attr("x",3748).attr("y",tagY).attr("width",80).attr("height",22).attr("fill","#000");

const g = svg.append("g").attr("clip-path","url(#plotClip)");

// grid
const gridBars = d3.range(0,936,16);
g.append("g").selectAll("line").data(gridBars).join("line")
  .attr("x1",d=>x(d)).attr("x2",d=>x(d)).attr("y1",P.top).attr("y2",P.bottom)
  .attr("stroke","#c0c0c0").attr("stroke-width",1).attr("stroke-dasharray","3,3");
g.append("g").selectAll("line").data(priceTicks).join("line")
  .attr("x1",P.left).attr("x2",P.right).attr("y1",d=>cy(d)).attr("y2",d=>cy(d))
  .attr("stroke","#c0c0c0").attr("stroke-width",1).attr("stroke-dasharray","3,3");

// level lines
g.append("g").selectAll("line").data(levels).join("line")
  .attr("x1",P.left).attr("x2",P.right).attr("y1",d=>cy(d.p)).attr("y2",d=>cy(d.p))
  .attr("stroke",d=>levelStyle[d.kind].c).attr("stroke-width",1.4)
  .attr("stroke-dasharray",d=>levelStyle[d.kind].d?"17,11":null);

// bid line
g.append("line").attr("x1",P.left).attr("x2",P.right).attr("y1",cy(bidPrice)).attr("y2",cy(bidPrice))
  .attr("stroke","#c0c0c0").attr("stroke-width",1.2);

// candles
const bars = closes.map((c,i)=>({i,o:opens[i],h:highs[i],l:lows[i],c}));
const cg = g.append("g");
cg.selectAll("line").data(bars).join("line")
  .attr("x1",d=>x(d.i)).attr("x2",d=>x(d.i))
  .attr("y1",d=>Math.round(y(d.h))).attr("y2",d=>Math.round(y(d.l))+1)
  .attr("stroke","#000").attr("stroke-width",1);
cg.selectAll("rect").data(bars).join("rect")
  .attr("x",d=>x(d.i)-1).attr("width",2)
  .attr("y",d=>Math.round(Math.min(y(d.o),y(d.c)))+0.5)
  .attr("height",d=>Math.max(Math.round(Math.abs(y(d.o)-y(d.c))),0.01))
  .attr("fill",d=>d.c>=d.o?"#fff":"#000").attr("stroke","#000").attr("stroke-width",1);

// level labels
const labelBar = 524;
g.append("g").selectAll("text").data(levels).join("text")
  .attr("class","lv").attr("x",x(labelBar)).attr("y",d=>y(d.p)+20)
  .attr("text-anchor","middle").attr("font-size",21)
  .attr("fill",d=>levelStyle[d.kind].c).text(d=>d.label);

// orange arcs
const lineGen = d3.line().x(d=>x(d[0])).y(d=>y(d[1])).curve(d3.curveCatmullRom.alpha(0.5));
[arcUpper, arcLower].forEach(a=>{
  g.append("path").attr("d",lineGen(a)).attr("fill","none").attr("stroke",ORANGE)
   .attr("stroke-width",4.5).attr("stroke-linecap","round");
});
// straight trend lines
const seg = d3.line().x(d=>x(d[0])).y(d=>y(d[1]));
[[blueTrend1,BLUE,6],[blueTrend2,BLUE,6],[channelUpper,"#000",5],[channelLower,"#000",5]].forEach(([pts,col,w])=>{
  g.append("path").attr("d",seg(pts)).attr("stroke",col).attr("stroke-width",w).attr("stroke-linecap","round").attr("fill","none");
});
// red arrows
g.append("path").attr("d",seg(arrowUp)).attr("stroke",RED).attr("stroke-width",6).attr("fill","none").attr("marker-end","url(#arrowRed)");
g.append("path").attr("d",seg(arrowDown)).attr("stroke",RED).attr("stroke-width",6).attr("fill","none").attr("marker-end","url(#arrowRed)");
g.append("path").attr("d",seg(arrowDownDashed)).attr("stroke",RED).attr("stroke-width",6).attr("stroke-dasharray","20,12").attr("fill","none").attr("marker-end","url(#arrowRed)");

// red horizontal (target) line
g.append("line").attr("x1",x(0.5)).attr("x2",P.right-4).attr("y1",cy(targetPrice)).attr("y2",cy(targetPrice))
  .attr("stroke","#FF0000").attr("stroke-width",1.5);
[x(0.5), P.right-4].forEach(px=>{
  g.append("rect").attr("x",px-2.5).attr("y",cy(targetPrice)-2.5).attr("width",5).attr("height",5)
    .attr("fill","#fff").attr("stroke","#FF0000").attr("stroke-width",1);
});

// mouse cursor (as in the screenshot)
const cx0 = Math.round(x(cursorAt[0]))+0.5, cy0 = Math.round(y(cursorAt[1]))+0.5;
svg.append("path").attr("transform",`translate(${cx0},${cy0})`)
  .attr("d","M0,0 L0,27 L6.5,20.5 L11,30 L15,28 L10.5,19 L19,19 Z")
  .attr("fill","#fff").attr("stroke","#333").attr("stroke-width",1.2).attr("stroke-linejoin","round");

// frame
svg.append("rect").attr("x",P.left).attr("y",P.top).attr("width",P.right-P.left).attr("height",P.bottom-P.top)
  .attr("fill","none").attr("stroke","#000").attr("stroke-width",1);

// chart shift marker
const sx = x(closes.length-0.5);
svg.append("path").attr("d",`M${sx-8},4 L${sx+8},4 L${sx},11 Z`).attr("fill","#a0a0a0");

// right axis
const ra = svg.append("g").attr("class","ax");
ra.selectAll("line").data(priceTicks).join("line")
  .attr("x1",P.right).attr("x2",P.right+5).attr("y1",d=>cy(d)).attr("y2",d=>cy(d)).attr("stroke","#000");
ra.append("g").attr("mask","url(#tagMask)").selectAll("text").data(priceTicks).join("text")
  .attr("x",3755).attr("y",d=>y(d)+6.5).attr("font-size",18).attr("fill","#000").text(d=>d.toFixed(2));

// price tags
const tg = svg.append("g").attr("class","ax");
tg.selectAll("rect").data(tags).join("rect")
  .attr("x",3748).attr("y",tagY).attr("width",80).attr("height",22).attr("fill",d=>d.c);
tg.selectAll("text").data(tags).join("text")
  .attr("x",3755).attr("y",d=>y(d.p)+11.5).attr("font-size",18).attr("fill","#fff").text(d=>d.p.toFixed(2));

// bottom axis
const ba = svg.append("g").attr("class","ax");
ba.selectAll("line").data(timeLabelBars).join("line")
  .attr("x1",d=>x(d)).attr("x2",d=>x(d)).attr("y1",P.bottom).attr("y2",P.bottom+6).attr("stroke","#000");
ba.selectAll("text").data(timeLabels).join("text")
  .attr("x",(d,i)=>x(timeLabelBars[i])+2).attr("y",1983).attr("font-size",18).attr("fill","#000").text(d=>d);

// title
svg.append("path").attr("d","M8,16 L21,16 L14.5,23 Z").attr("fill","#000");
svg.append("text").attr("class","ax").attr("x",32).attr("y",26).attr("font-size",17)
  .style("white-space","pre").attr("fill","#000").text(titleText);
</script>
</body></html>
